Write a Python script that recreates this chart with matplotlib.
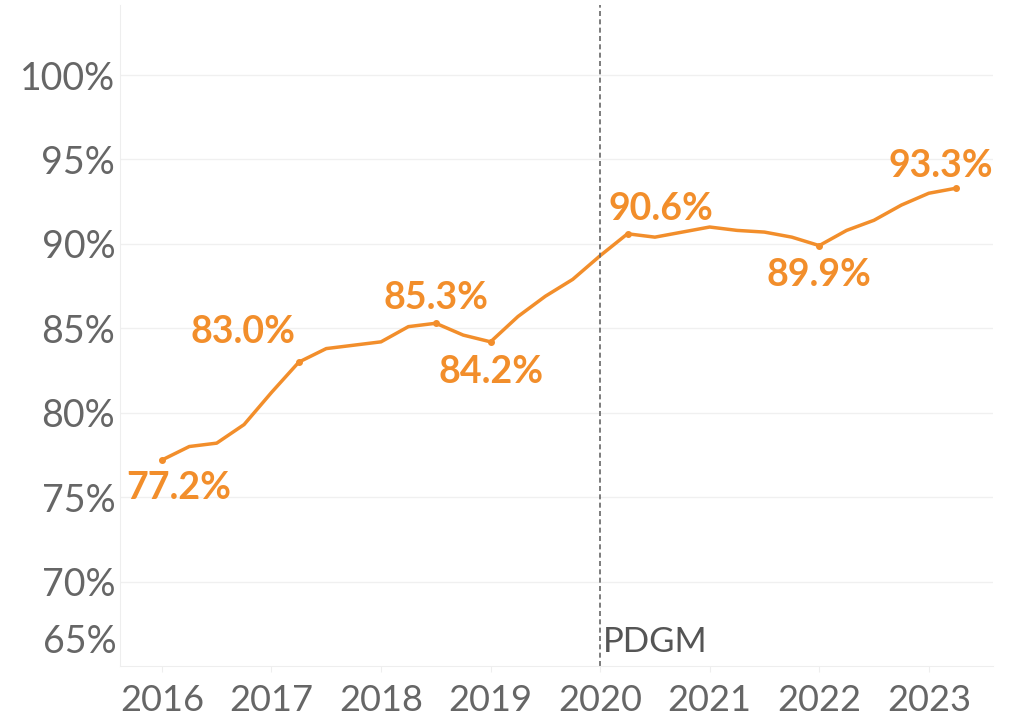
import matplotlib
matplotlib.use('Agg')
import matplotlib.pyplot as plt
import numpy as np

# quarterly values, 2016 Q1 .. 2023 Q2
quarters = list(range(30))
values = [77.2, 78.0, 78.2, 79.3, 81.2, 83.0, 83.8, 84.0, 84.2, 85.1,
          85.3, 84.6, 84.2, 85.7, 86.9, 87.9, 89.3, 90.6, 90.4, 90.7,
          91.0, 90.8, 90.7, 90.4, 89.9, 90.8, 91.4, 92.3, 93.0, 93.3]
years = ['2016', '2017', '2018', '2019', '2020', '2021', '2022', '2023']
year_pos = [0, 4, 8, 12, 16, 20, 24, 28]
yticks = [65, 70, 75, 80, 85, 90, 95, 100]
labelled = [0, 5, 10, 12, 17, 24, 29]
pdgm_q = 16

orange = '#F28E2B'
grey = '#666666'

plt.rcParams['font.family'] = ['Lato', 'DejaVu Sans']

fig = plt.figure(figsize=(10.17, 7.16), dpi=100)
ax = fig.add_axes([0.118, 0.0698, 0.858, 0.923])

ax.plot(quarters, values, color=orange, linewidth=2.5, solid_joinstyle='round')
for i in labelled:
    ax.plot(quarters[i], values[i], 'o', color=orange, markersize=4)

ax.set_xlim(-1.53, 30.33)
ax.set_ylim(65, 104.14)

ax.set_yticks(yticks)
ax.set_yticklabels(['' if t == 65 else f'{t}%' for t in yticks])
ax.set_xticks(year_pos)
ax.set_xticklabels(years)
ax.tick_params(axis='y', length=0, pad=3.5, labelsize=27, labelcolor=grey)
ax.tick_params(axis='x', length=4, color='#eeeeee', pad=9, labelsize=26, labelcolor=grey)
# bottom label sits higher than its gridline, as in the original
ax.text(-0.004, (666 - 642) / 661, '65%', transform=ax.transAxes, ha='right', va='center',
        fontsize=27, color=grey)

for t in yticks[1:]:
    ax.axhline(t, color='#f0f0f0', linewidth=1, zorder=0)
for s in ['top', 'right']:
    ax.spines[s].set_visible(False)
for s in ['left', 'bottom']:
    ax.spines[s].set_color('#eeeeee')

ax.axvline(pdgm_q, color='#666666', linestyle=(0, (3, 2)), linewidth=1.2)
ax.text(pdgm_q + 0.1, 66.45, 'PDGM', ha='left', va='center', fontsize=25, color='#555555')

# data labels: (dx, dy) offsets in points
offsets = {0: (12, -20), 5: (-40, 22), 10: (0, 18), 12: (0, -22), 17: (24, 18), 24: (0, -21), 29: (-11, 16)}
for i in labelled:
    dx, dy = offsets[i]
    ax.annotate(f'{values[i]:.1f}%', (quarters[i], values[i]), xytext=(dx, dy),
                textcoords='offset points', ha='center', va='center',
                fontsize=27, fontweight='bold', color=orange)

plt.savefig('out.png', dpi=100)
